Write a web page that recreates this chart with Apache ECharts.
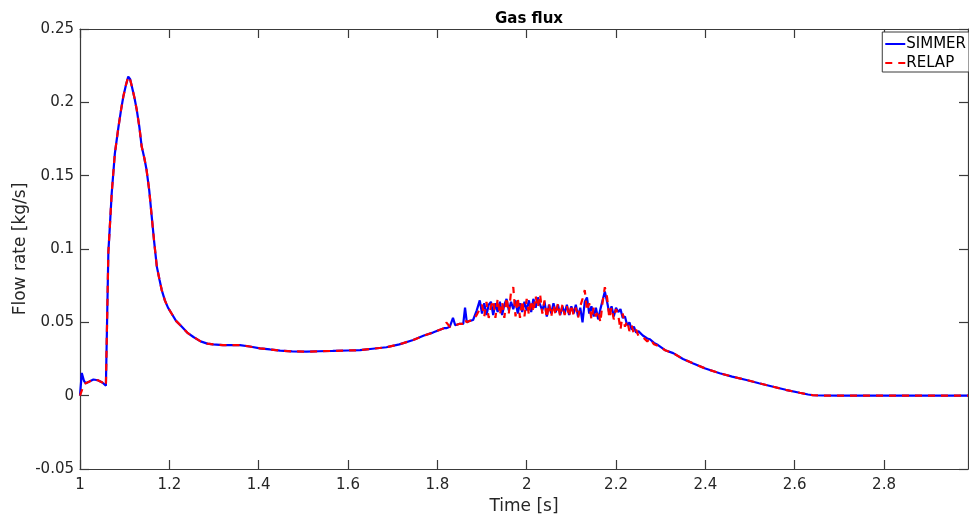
<!DOCTYPE html>
<html>
<head>
<meta charset="utf-8">
<script src="https://cdn.jsdelivr.net/npm/echarts@6/dist/echarts.min.js"></script>
<style>
html,body{margin:0;padding:0;background:#fff;}
#chart{width:969px;height:519px;}
</style>
</head>
<body>
<div id="chart"></div>
<script>
const xTicks = [1, 1.2, 1.4, 1.6, 1.8, 2, 2.2, 2.4, 2.6, 2.8];
const yTicks = [-0.05, 0, 0.05, 0.1, 0.15, 0.2, 0.25];

const time = [
  1.000, 1.004, 1.009, 1.013, 1.020, 1.030, 1.040, 1.050, 1.058, 1.061,
  1.0635, 1.066, 1.071, 1.078, 1.086, 1.092, 1.097, 1.103, 1.108, 1.112,
  1.116, 1.122, 1.127, 1.133, 1.138, 1.144, 1.149, 1.155, 1.160, 1.166,
  1.172, 1.178, 1.183, 1.190, 1.197, 1.205, 1.215, 1.228, 1.240, 1.254,
  1.270, 1.285, 1.298, 1.320, 1.340, 1.358, 1.380, 1.403, 1.425, 1.448,
  1.475, 1.507, 1.535, 1.566, 1.600, 1.627, 1.655, 1.686, 1.715, 1.746,
  1.770, 1.790, 1.806, 1.815, 1.820, 1.828, 1.835, 1.840, 1.850, 1.858,
  1.862, 1.866, 1.873, 1.880, 1.888, 1.895,
  1.900, 1.905, 1.910, 1.915, 1.920, 1.925, 1.930, 1.935, 1.940, 1.945,
  1.950, 1.955, 1.960, 1.965, 1.970, 1.975, 1.980, 1.985, 1.990, 1.995,
  2.000, 2.005, 2.010, 2.015, 2.020, 2.025, 2.030, 2.035, 2.040, 2.045,
  2.050, 2.055, 2.060, 2.065, 2.070, 2.075, 2.080, 2.085, 2.090, 2.095,
  2.100, 2.105, 2.110, 2.115, 2.120, 2.125, 2.130, 2.135, 2.140, 2.145,
  2.150, 2.155, 2.160, 2.165, 2.170, 2.175, 2.180, 2.185, 2.190, 2.195,
  2.200, 2.205, 2.210, 2.215, 2.220, 2.225, 2.230, 2.235, 2.240, 2.245,
  2.250, 2.260, 2.270, 2.276, 2.285, 2.294,
  2.310, 2.328, 2.350, 2.373, 2.400, 2.432, 2.460, 2.492, 2.520, 2.552,
  2.580, 2.611, 2.630, 2.641, 2.660, 2.700, 2.800, 2.900, 2.988
];

const simmer = [
  0.000, 0.0155, 0.0100, 0.0085, 0.0095, 0.0110, 0.0105, 0.0090, 0.0068, 0.0070,
  0.098, 0.111, 0.138, 0.165, 0.183, 0.195, 0.204, 0.212, 0.2175, 0.216,
  0.211, 0.203, 0.195, 0.183, 0.170, 0.162, 0.154, 0.140, 0.124, 0.105,
  0.088, 0.079, 0.072, 0.065, 0.060, 0.056, 0.051, 0.047, 0.043, 0.040,
  0.037, 0.0355, 0.035, 0.0345, 0.0345, 0.0345, 0.0335, 0.0323, 0.0315, 0.0307,
  0.0302, 0.0300, 0.0303, 0.0305, 0.0308, 0.0310, 0.0320, 0.0330, 0.0350, 0.0380,
  0.041, 0.043, 0.045, 0.046, 0.046, 0.047, 0.053, 0.048, 0.049, 0.049,
  0.060, 0.050, 0.051, 0.0516, 0.058, 0.065,
  0.056, 0.063, 0.055, 0.062, 0.064, 0.055, 0.063, 0.057, 0.064, 0.055,
  0.062, 0.066, 0.058, 0.064, 0.059, 0.065, 0.056, 0.063, 0.057, 0.064,
  0.058, 0.065, 0.057, 0.066, 0.060, 0.067, 0.062, 0.058, 0.064, 0.054,
  0.062, 0.056, 0.063, 0.057, 0.062, 0.055, 0.061, 0.056, 0.062, 0.055,
  0.061, 0.056, 0.062, 0.054, 0.060, 0.050, 0.064, 0.067, 0.056, 0.061,
  0.054, 0.060, 0.052, 0.059, 0.065, 0.071, 0.064, 0.056, 0.061, 0.054,
  0.060, 0.057, 0.059, 0.053, 0.054, 0.048, 0.050, 0.045, 0.047, 0.043,
  0.044, 0.041, 0.039, 0.0385, 0.036, 0.0345,
  0.031, 0.029, 0.025, 0.022, 0.0185, 0.0153, 0.013, 0.0107, 0.0085, 0.0061,
  0.004, 0.002, 0.0008, 0.0003, 0.0001, 0.000, 0.000, 0.000, 0.000
];

const relap = [
  0.000, 0.000, 0.0080, 0.0085, 0.0095, 0.0110, 0.0105, 0.0090, 0.0068, 0.0070,
  0.098, 0.111, 0.138, 0.165, 0.183, 0.195, 0.204, 0.212, 0.2175, 0.216,
  0.211, 0.203, 0.195, 0.183, 0.170, 0.162, 0.154, 0.140, 0.124, 0.105,
  0.088, 0.079, 0.072, 0.065, 0.060, 0.056, 0.051, 0.047, 0.043, 0.040,
  0.037, 0.0355, 0.035, 0.0345, 0.0345, 0.0345, 0.0335, 0.0323, 0.0315, 0.0307,
  0.0302, 0.0300, 0.0303, 0.0305, 0.0308, 0.0310, 0.0320, 0.0330, 0.0350, 0.0380,
  0.041, 0.043, 0.045, 0.046, 0.050, 0.047, 0.048, 0.048, 0.049, 0.049,
  0.052, 0.050, 0.051, 0.0516, 0.055, 0.059,
  0.062, 0.054, 0.064, 0.053, 0.061, 0.065, 0.053, 0.066, 0.055, 0.064,
  0.053, 0.067, 0.056, 0.071, 0.074, 0.054, 0.067, 0.053, 0.065, 0.054,
  0.066, 0.055, 0.065, 0.057, 0.068, 0.060, 0.069, 0.056, 0.065, 0.053,
  0.063, 0.054, 0.062, 0.055, 0.063, 0.054, 0.062, 0.055, 0.061, 0.054,
  0.062, 0.055, 0.060, 0.053, 0.061, 0.066, 0.072, 0.058, 0.063, 0.052,
  0.060, 0.054, 0.058, 0.050, 0.064, 0.074, 0.067, 0.053, 0.060, 0.052,
  0.059, 0.055, 0.045, 0.056, 0.047, 0.051, 0.044, 0.048, 0.042, 0.045,
  0.041, 0.040, 0.037, 0.039, 0.035, 0.034,
  0.031, 0.029, 0.025, 0.022, 0.0185, 0.0153, 0.013, 0.0107, 0.0085, 0.0061,
  0.004, 0.002, 0.0008, 0.0003, 0.0001, 0.000, 0.000, 0.000, 0.000
];

const X_MIN = xTicks[0];
const X_MAX = 2.988;
const Y_MIN = yTicks[0];
const Y_MAX = yTicks[yTicks.length - 1];

const axisColor = '#3a3a3a';
const textColor = '#262626';
const fontFam = '"DejaVu Sans", sans-serif';

const chart = echarts.init(document.getElementById('chart'), null, {renderer: 'canvas'});

function fmt(v) {
  return String(Math.round(v * 1000) / 1000);
}

const option = {
  backgroundColor: '#ffffff',
  animation: false,
  title: {
    text: 'Gas flux',
    left: 524, top: 7, textAlign: 'center',
    textStyle: {fontFamily: fontFam, fontSize: 15, fontWeight: 'bold', color: '#000'}
  },
  legend: {
    orient: 'vertical',
    right: 0, top: 32,
    padding: [4, 3, 1, 2],
    itemGap: 3,
    itemWidth: 20,
    itemHeight: 2,
    itemStyle: {color: 'rgba(0,0,0,0)', borderWidth: 0},
    backgroundColor: '#ffffff',
    borderColor: axisColor,
    borderWidth: 1,
    borderRadius: 0,
    textStyle: {fontFamily: fontFam, fontSize: 15, lineHeight: 16, color: '#000', padding: [0, 0, 0, -4]},
    data: ['SIMMER', 'RELAP']
  },
  grid: {left: 80, right: 1, top: 29, bottom: 50, containLabel: false, outerBoundsMode: 'none'},
  xAxis: [{
    type: 'value',
    min: X_MIN, max: X_MAX, interval: 0.2,
    name: 'Time [s]', nameLocation: 'middle', nameGap: 29, nameMoveOverlap: false,
    nameTextStyle: {fontFamily: fontFam, fontSize: 17, color: textColor},
    axisLine: {show: true, onZero: false, lineStyle: {color: axisColor, width: 1.2}},
    axisTick: {show: true, inside: true, length: 9, lineStyle: {color: axisColor, width: 1.2}},
    axisLabel: {
      fontFamily: fontFam, fontSize: 15, color: textColor, margin: 9,
      showMaxLabel: false, formatter: fmt
    },
    splitLine: {show: false}
  }, {
    type: 'value', position: 'top',
    min: X_MIN, max: X_MAX, interval: 0.2,
    axisLine: {show: true, onZero: false, lineStyle: {color: axisColor, width: 1.2}},
    axisTick: {show: true, inside: true, length: 9, lineStyle: {color: axisColor, width: 1.2}},
    axisLabel: {show: false},
    splitLine: {show: false}
  }],
  yAxis: [{
    type: 'value',
    min: Y_MIN, max: Y_MAX, interval: 0.05,
    name: 'Flow rate [kg/s]', nameLocation: 'middle', nameGap: 51, nameMoveOverlap: false,
    nameTextStyle: {fontFamily: fontFam, fontSize: 17, color: textColor},
    axisLine: {show: true, onZero: false, lineStyle: {color: axisColor, width: 1.2}},
    axisTick: {show: true, inside: true, length: 9, lineStyle: {color: axisColor, width: 1.2}},
    axisLabel: {fontFamily: fontFam, fontSize: 15, color: textColor, margin: 6, formatter: fmt},
    splitLine: {show: false}
  }, {
    type: 'value', position: 'right',
    min: Y_MIN, max: Y_MAX, interval: 0.05,
    axisLine: {show: true, onZero: false, lineStyle: {color: axisColor, width: 1.2}},
    axisTick: {show: true, inside: true, length: 9, lineStyle: {color: axisColor, width: 1.2}},
    axisLabel: {show: false},
    splitLine: {show: false}
  }],
  series: [{
    name: 'SIMMER',
    type: 'line',
    xAxisIndex: 0, yAxisIndex: 0,
    showSymbol: false, symbol: 'none',
    lineStyle: {color: '#0000ff', width: 2.2},
    itemStyle: {color: '#0000ff'},
    data: time.map((t, i) => [t, simmer[i]]),
    z: 2
  }, {
    name: 'RELAP',
    type: 'line',
    xAxisIndex: 0, yAxisIndex: 0,
    showSymbol: false, symbol: 'none',
    lineStyle: {color: '#ff0000', width: 2.2, type: [7, 6]},
    itemStyle: {color: '#ff0000'},
    data: time.map((t, i) => [t, relap[i]]),
    z: 3
  }]
};
chart.setOption(option);
</script>
</body>
</html>
